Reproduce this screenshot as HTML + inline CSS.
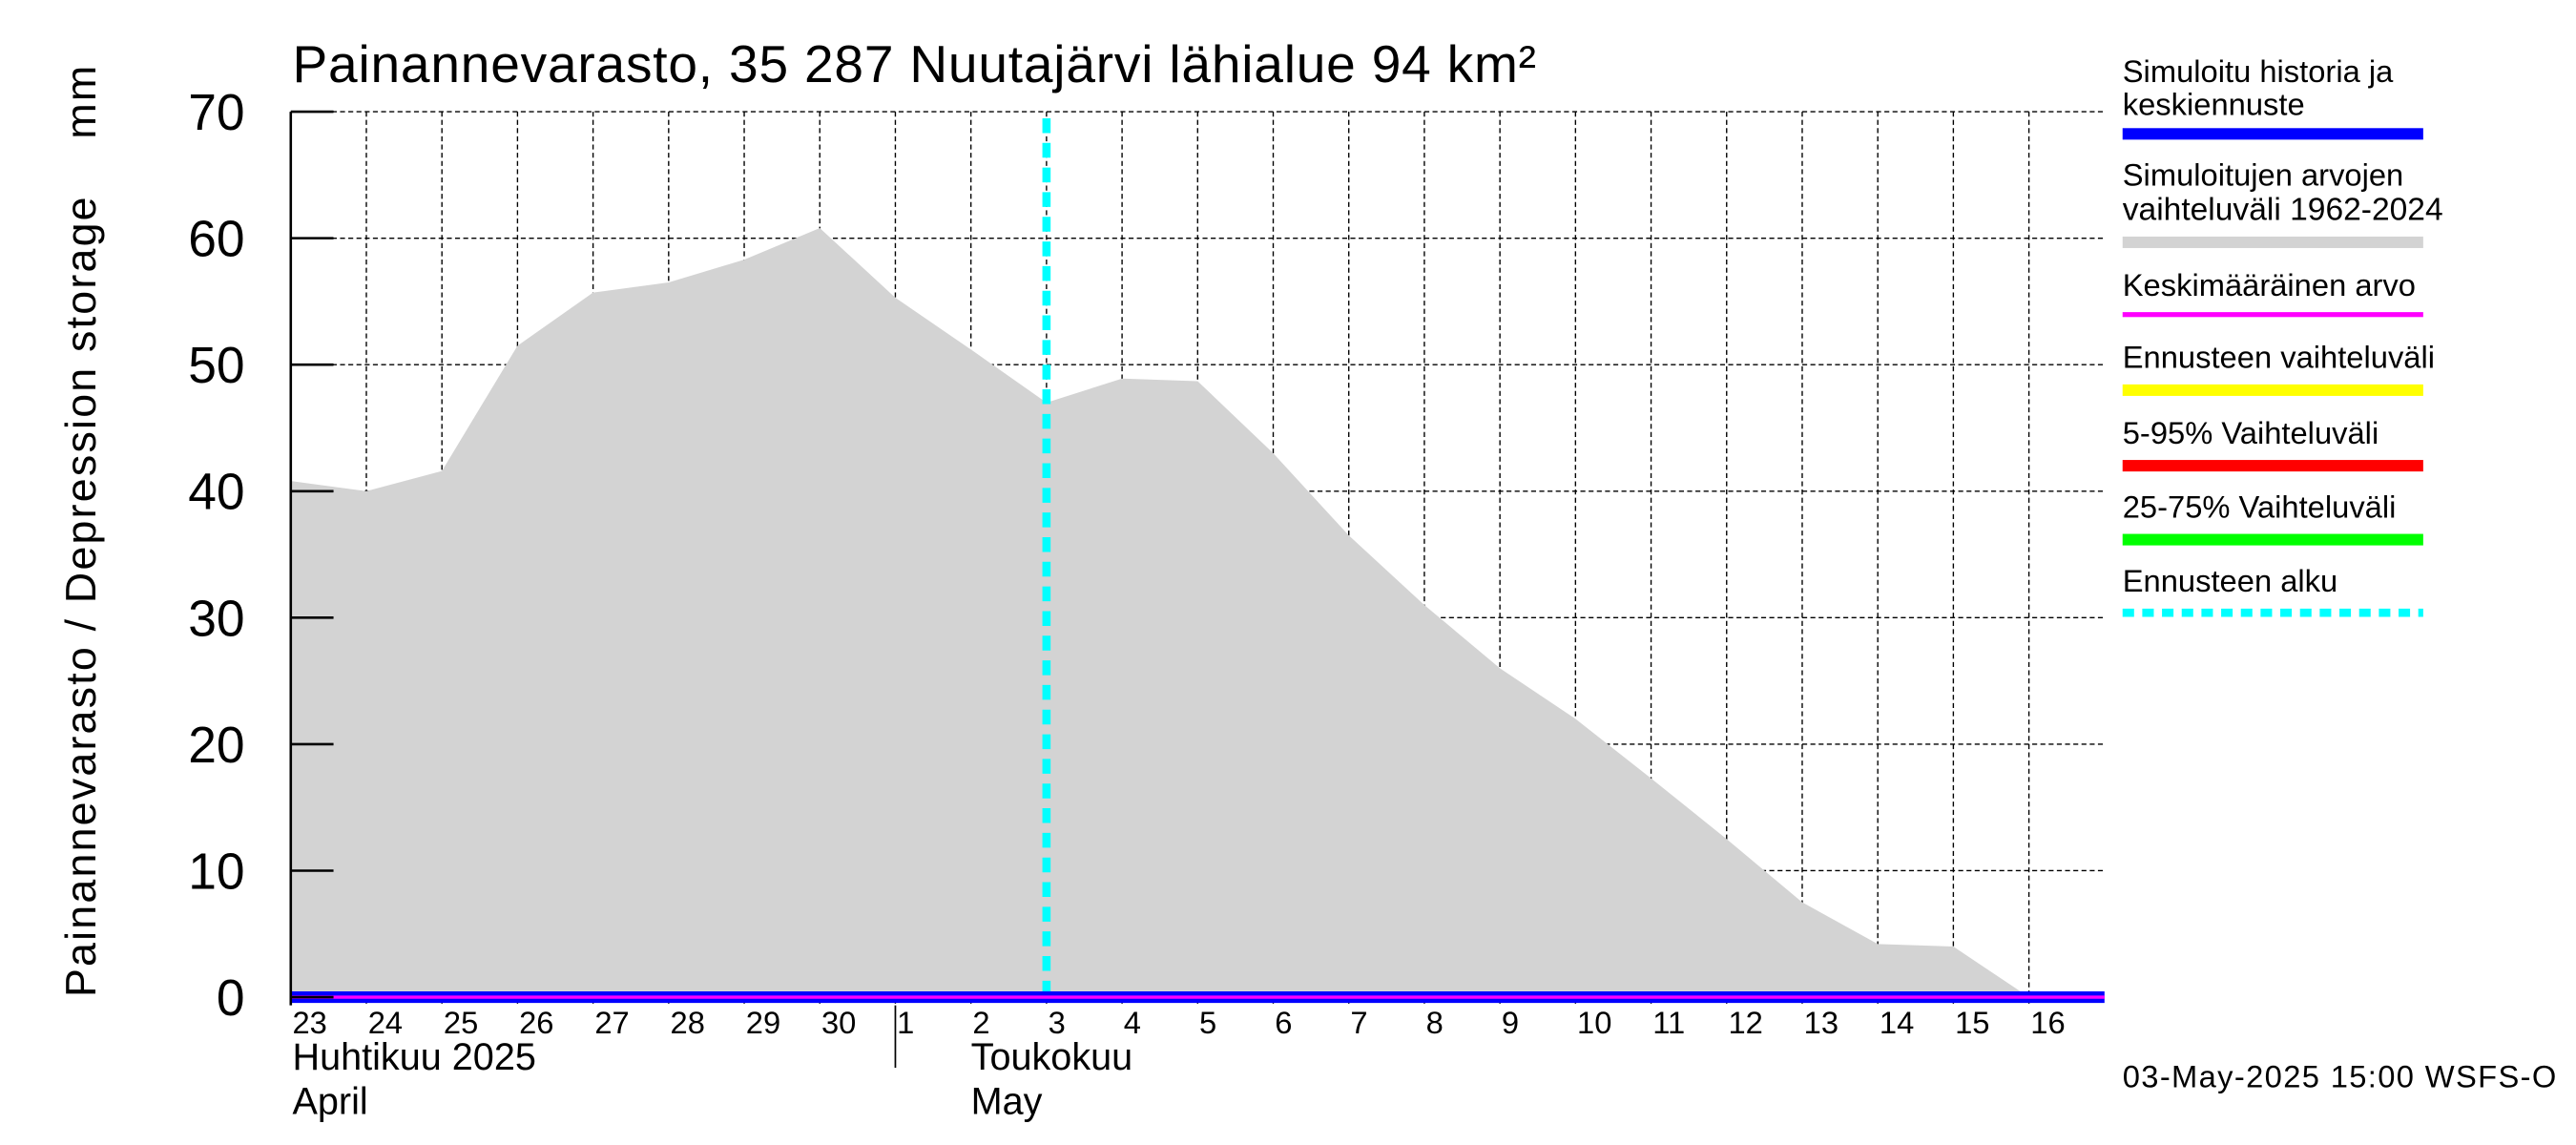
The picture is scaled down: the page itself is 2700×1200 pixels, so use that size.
<!DOCTYPE html>
<html><head><meta charset="utf-8"><style>
html,body{margin:0;padding:0;background:#fff;overflow:hidden}
svg{display:block;font-family:"Liberation Sans",sans-serif}
</style></head><body>
<svg id="chart" width="2700" height="1200" viewBox="0 0 1568 697" preserveAspectRatio="none">
<rect width="1568" height="697" fill="#fff"/>
<text x="178" y="50" font-size="32" textLength="757">Painannevarasto, 35 287 Nuutajärvi lähialue 94 km²</text>
<text transform="translate(58,607) rotate(-90)" font-size="26" textLength="567" xml:space="preserve">Painannevarasto / Depression storage    mm</text>
<g id="grid"></g>
<g id="area"></g>
<g id="axes"></g>
<g id="legend" font-size="19">
<text x="1292" y="50">Simuloitu historia ja</text>
<text x="1292" y="70">keskiennuste</text>
<rect x="1292" y="78" width="183" height="7" fill="#0000ff"/>
<text x="1292" y="113">Simuloitujen arvojen</text>
<text x="1292" y="134" font-size="19.5">vaihteluväli 1962-2024</text>
<rect x="1292" y="144" width="183" height="7" fill="#d3d3d3"/>
<text x="1292" y="180">Keskimääräinen arvo</text>
<rect x="1292" y="190" width="183" height="3" fill="#ff00ff"/>
<text x="1292" y="224">Ennusteen vaihteluväli</text>
<rect x="1292" y="234" width="183" height="7" fill="#ffff00"/>
<text x="1292" y="270">5-95% Vaihteluväli</text>
<rect x="1292" y="280" width="183" height="7" fill="#ff0000"/>
<text x="1292" y="315">25-75% Vaihteluväli</text>
<rect x="1292" y="325" width="183" height="7" fill="#00ff00"/>
<text x="1292" y="360">Ennusteen alku</text>
<line x1="1292" y1="373" x2="1475" y2="373" stroke="#00ffff" stroke-width="5" stroke-dasharray="7,5"/>
</g>
<text x="1292" y="662" font-size="19" textLength="264">03-May-2025 15:00 WSFS-O</text>
</svg>
<script>
const dayLabels=["23","24","25","26","27","28","29","30","1","2","3","4","5","6","7","8","9","10","11","12","13","14","15","16"];
const rangeUpper=[40.8,40,41.6,51.5,55.7,56.5,58.3,60.8,55.3,51.2,47,48.9,48.7,43,36.5,31,26,22,17.3,12.5,7.5,4.2,4,0,0];
const simValues=[0,0,0,0,0,0,0,0,0,0,0,0,0,0,0,0,0,0,0,0,0,0,0,0,0];
const yTicks=[0,10,20,30,40,50,60,70];
const forecastDay=10;
const NS="http://www.w3.org/2000/svg";
const X0=177,X1=1281,Y0=607,Y70=68,DW=(X1-X0)/dayLabels.length;
const xs=i=>X0+i*DW, ys=v=>Y0-(Y0-Y70)*v/70;
function mk(t,a,p){const e=document.createElementNS(NS,t);for(const k in a)e.setAttribute(k,a[k]);p.appendChild(e);return e;}
const grid=document.getElementById('grid'),area=document.getElementById('area'),axes=document.getElementById('axes');
yTicks.forEach(v=>{if(v===0)return;const l=mk('line',{x1:X0,x2:X1,y1:ys(v),y2:ys(v),stroke:'#000','stroke-width':0.8,'stroke-dasharray':'3,2'},grid);

});
for(let i=1;i<dayLabels.length;i++){const l=mk('line',{x1:xs(i),x2:xs(i),y1:Y70,y2:Y0+5,stroke:'#000','stroke-width':0.8,'stroke-dasharray':'3,2'},grid);

}
let d='M'+xs(0)+','+ys(0);
rangeUpper.forEach((v,i)=>{d+=' L'+xs(i)+','+ys(v);});
d+=' L'+xs(rangeUpper.length-1)+','+ys(0)+' Z';
const ar=mk('path',{d:d,fill:'#d3d3d3'},area);


const fl=mk('line',{x1:xs(forecastDay),x2:xs(forecastDay),y1:Y70+4,y2:Y0,stroke:'#00ffff','stroke-width':5,'stroke-dasharray':'9,6'},area);


let sd='';simValues.forEach((v,i)=>{sd+=(i?' L':'M')+xs(i)+','+ys(v);});
const bl=mk('path',{d:sd,stroke:'#0000ff','stroke-width':7,fill:'none'},area);


const ml=mk('path',{d:sd,stroke:'#ff00ff','stroke-width':2,fill:'none'},area);


const ax=mk('line',{x1:X0,x2:X0,y1:Y70,y2:Y0+5,stroke:'#000','stroke-width':1.5},axes);


yTicks.forEach(v=>{const t=mk('line',{x1:X0,x2:X0+26,y1:ys(v),y2:ys(v),stroke:'#000','stroke-width':1.5},axes);


const tx=mk('text',{x:149,y:ys(v)+11,'font-size':31,'text-anchor':'end'},axes);tx.textContent=v;

});
dayLabels.forEach((s,i)=>{const t=mk('text',{x:xs(i)+1,y:Y0+22,'font-size':19},axes);t.textContent=s;

});
const ms=mk('line',{x1:xs(8),x2:xs(8),y1:Y0+5,y2:650,stroke:'#000','stroke-width':1},axes);


[["Huhtikuu  2025",178,651],["April",178,678],["Toukokuu",591,651],["May",591,678]].forEach(a=>{const t=mk('text',{x:a[1],y:a[2],'font-size':23,'xml:space':'preserve'},axes);t.textContent=a[0];

});
</script>
</body></html>
